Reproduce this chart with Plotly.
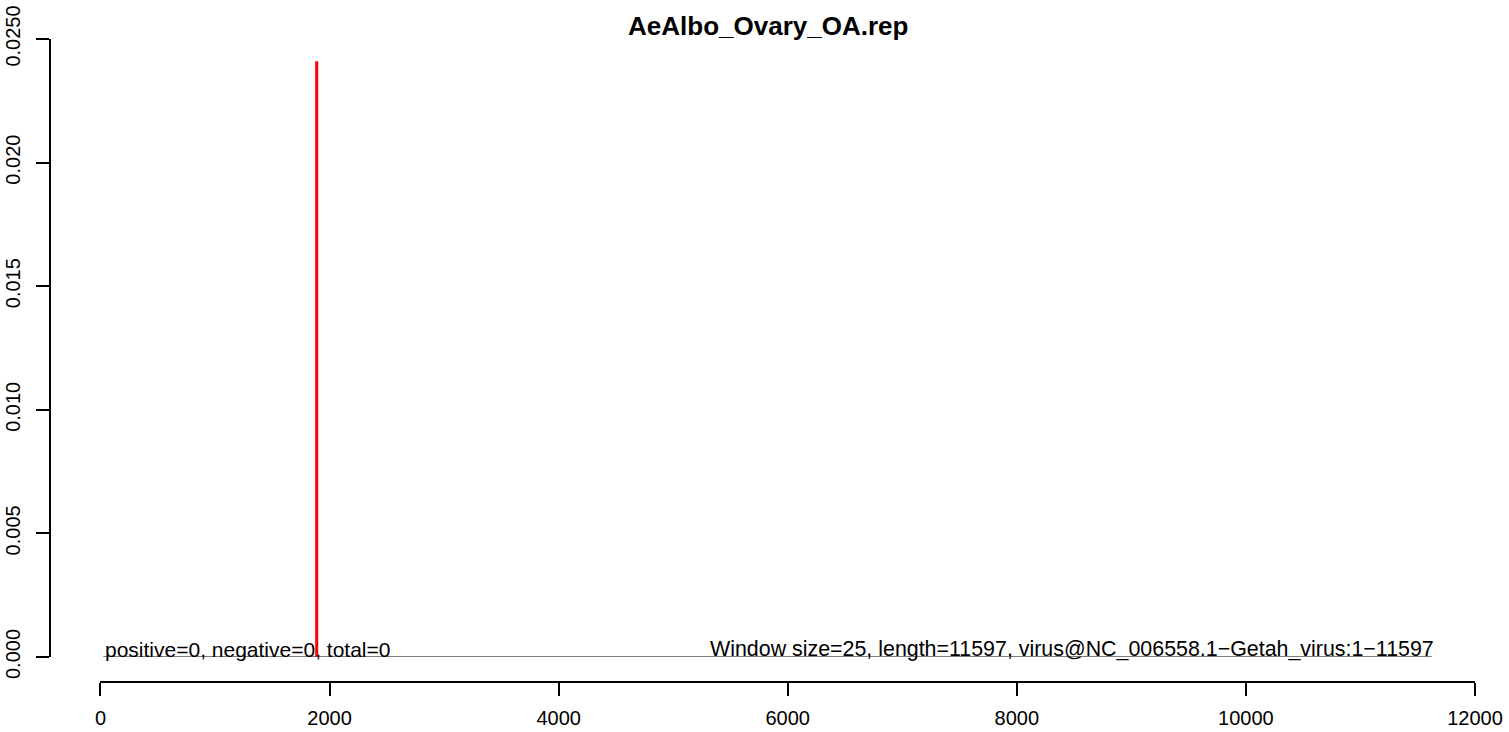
import plotly.graph_objects as go

# data
title = "AeAlbo_Ovary_OA.rep"
window_size = 25
genome_length = 11597
virus_name = "virus@NC_006558.1\u2212Getah_virus:1\u221211597"
peak_pos = [1888]
peak_val = [0.0241]
positive, negative, total = 0, 0, 0

x_ticks = [0, 2000, 4000, 6000, 8000, 10000, 12000]
y_ticks = [0.0, 0.005, 0.010, 0.015, 0.020, 0.025]
y_ticktext = ["0.000", "0.005", "0.010", "0.015", "0.020", "0.0250"]

FONT = "Liberation Sans, Arial, sans-serif"

# vertical "h"-type lines for each peak
xs, ys = [], []
for p, v in zip(peak_pos, peak_val):
    xs += [p, p, None]
    ys += [0, v, None]

fig = go.Figure()

# baseline along the genome
fig.add_trace(go.Scatter(
    x=[window_size, genome_length + window_size],
    y=[0, 0],
    mode='lines',
    line=dict(color='black', width=1),
    hoverinfo='skip',
    showlegend=False
))

fig.add_trace(go.Scatter(
    x=xs, y=ys,
    mode='lines',
    line=dict(color='#ff0000', width=3),
    showlegend=False
))

fig.add_annotation(
    x=window_size, y=0, xref='x', yref='y',
    text=f"positive={positive}, negative={negative}, total={total}",
    showarrow=False, xanchor='left', yanchor='bottom', yshift=-6,
    font=dict(family=FONT, size=21, color='black')
)
fig.add_annotation(
    x=genome_length + window_size, y=0, xref='x', yref='y',
    text=f"Window size={window_size}, length={genome_length}, {virus_name}",
    showarrow=False, xanchor='right', yanchor='bottom', yshift=-6, xshift=4,
    font=dict(family=FONT, size=21.4, color='black')
)

fig.update_layout(
    width=1509, height=732,
    paper_bgcolor='white', plot_bgcolor='white',
    margin=dict(l=50, r=34, t=39, b=50, autoexpand=False),
    font=dict(family=FONT, size=20, color='black'),
    title=dict(text=f"<b>{title}</b>", x=0.504, xanchor='center',
               xref='paper', y=1 - 26 / 732, yanchor='middle',
               font=dict(family=FONT, size=26, color='black')),
    xaxis=dict(
        domain=[0.0354, 1], range=[0, 12000],
        anchor='free', position=0, automargin=False,
        tickvals=x_ticks, ticktext=[str(t) for t in x_ticks],
        ticks='outside', ticklen=13, tickwidth=1.5, tickcolor='black',
        ticklabelstandoff=5,
        showline=True, linecolor='black', linewidth=1.5,
        showgrid=False, zeroline=False,
        tickfont=dict(family=FONT, size=20, color='black')
    ),
    yaxis=dict(
        domain=[0.0389, 1], range=[0, 0.025],
        anchor='free', position=0, automargin=False,
        tickvals=y_ticks, ticktext=y_ticktext, tickangle=-90,
        ticks='outside', ticklen=13, tickwidth=1.5, tickcolor='black',
        ticklabelstandoff=8,
        showline=True, linecolor='black', linewidth=1.5,
        showgrid=False, zeroline=False,
        tickfont=dict(family=FONT, size=20, color='black')
    ),
)

# drop the default 8px page margin so the figure fills the window
fig.write_html("out.html", config={'displayModeBar': False},
               post_script="document.body.style.margin='0';document.body.style.overflow='hidden';")
